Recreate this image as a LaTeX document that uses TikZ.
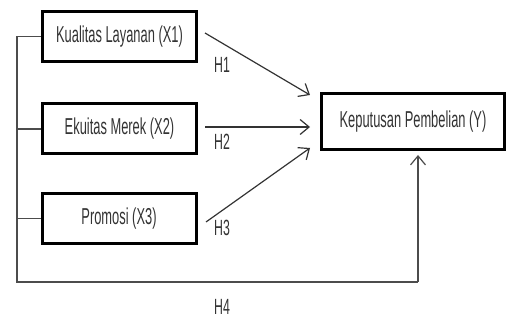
\documentclass[tikz,border=0pt]{standalone}
\usepackage{fontspec}
\setmainfont{Liberation Sans}
\usetikzlibrary{arrows.meta}
\newcommand{\narrow}[1]{\scalebox{0.56}[1]{#1}}

\begin{document}
\begin{tikzpicture}[x=1pt,y=-1pt,
    var/.style={draw=black,line width=3pt,inner sep=0pt,minimum width=154pt,minimum height=50pt,text=black!80,font=\fontsize{23}{27}\selectfont},
    hyp/.style={text=black!80,inner sep=0pt,font=\fontsize{22}{26}\selectfont},
    link/.style={line width=1.2pt,draw=black!80},
    >={Straight Barb[length=9pt,width=15pt]}]
        \useasboundingbox (0,0) rectangle (508,320);

        \node[var] (X1) at (119.5,36.5) {\narrow{Kualitas Layanan (X1)}};
        \node[var] (X2) at (119.5,129) {\narrow{Ekuitas Merek (X2)}};
        \node[var] (X3) at (119,218.5) {\narrow{Promosi (X3)}};
        \node[var,minimum width=183pt,minimum height=56pt] (Y) at (413,121.5) {\narrow{Keputusan Pembelian (Y)}};

        \coordinate (s1) at (205,33);  \coordinate (e1) at (310,95);
        \coordinate (s2) at (205,127); \coordinate (e2) at (310,127);
        \coordinate (s3) at (206,222); \coordinate (e3) at (310,148);
        \coordinate (top) at (17,36.5);
        \coordinate (bot) at (17,282);
        \coordinate (turn) at (418,282);

        \draw [link,->] (s1) -- (e1);
        \draw [link,->] (s2) -- (e2);
        \draw [link,->] (s3) -- (e3);

        \draw [link,draw=black!70] (top) -- (bot) -- (turn);
        \draw [link,draw=black!70,->,shorten >=4pt] (turn) -- (turn |- Y.south);
        \draw [link,draw=black!70] (X1.west -| top) -- (X1.west);
        \draw [link,draw=black!70] (X2.west -| top) -- (X2.west);
        \draw [link,draw=black!70] (X3.west -| top) -- (X3.west);

        \node[hyp] (H1) at (222,65) {\narrow{H1}};
        \node[hyp] (H2) at (222,142) {\narrow{H2}};
        \node[hyp] (H3) at (222,228) {\narrow{H3}};
        \node[hyp] (H4) at (222,307) {\narrow{H4}};
    \end{tikzpicture}
\end{document}
